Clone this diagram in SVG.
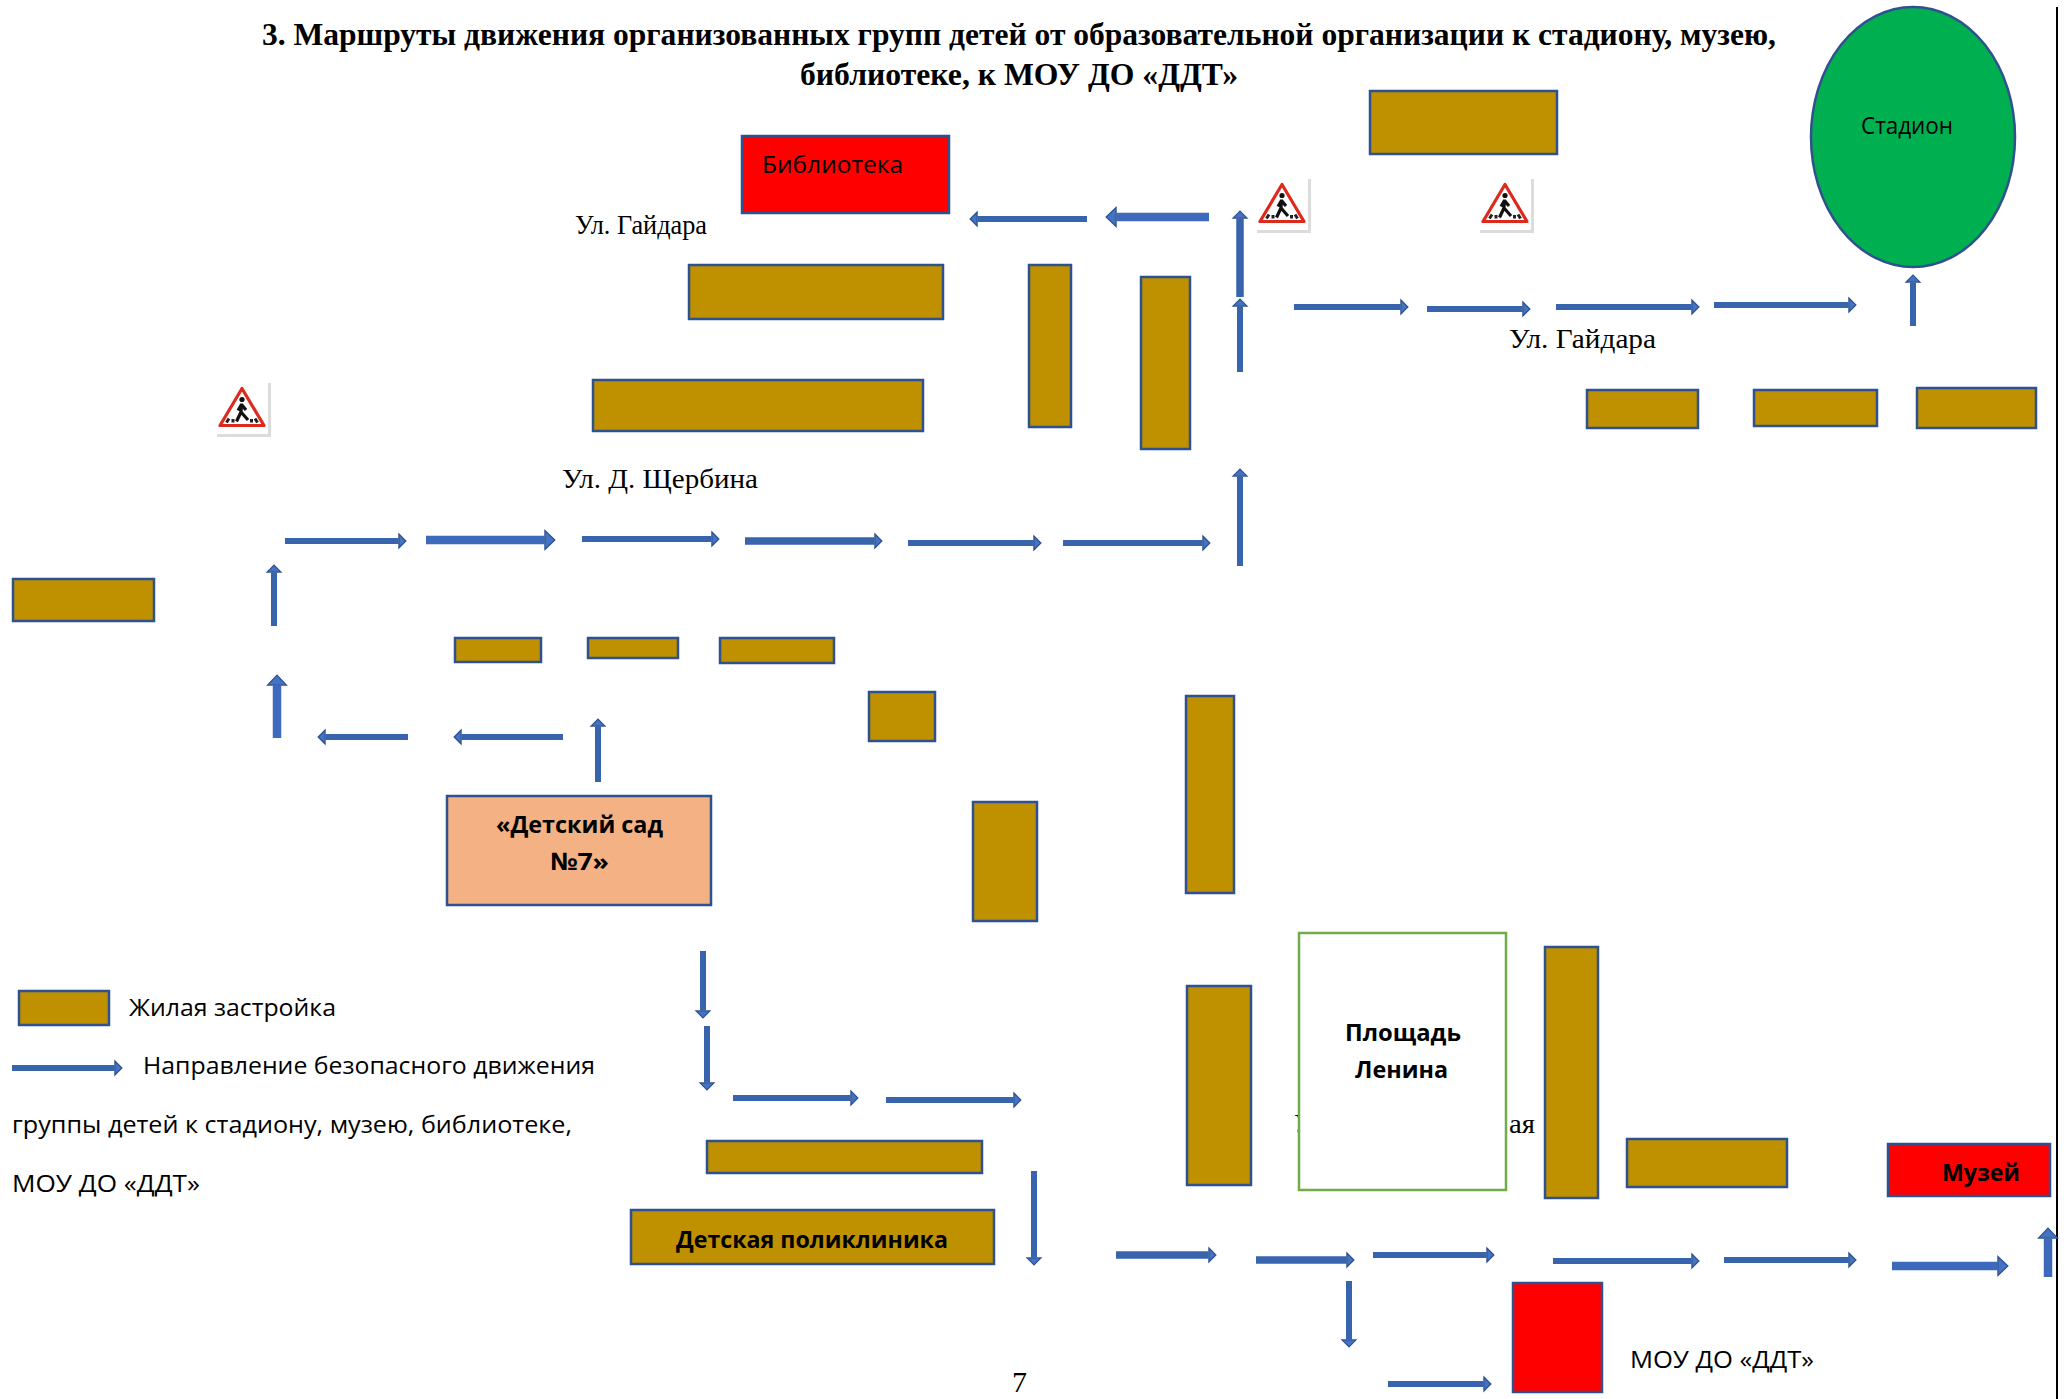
<svg xmlns="http://www.w3.org/2000/svg" width="2069" height="1399" viewBox="0 0 2069 1399">
<style>
.b{fill:#bf9000;stroke:#2f528f;stroke-width:2.5}
.r{fill:#ff0000;stroke:#2f528f;stroke-width:2.5}
.a{stroke:#3864ae;stroke-width:6;fill:none;marker-end:url(#h)}
.a7{stroke:#3864ae;stroke-width:7.5;fill:none;marker-end:url(#h)}
.m{stroke:#3d6abb;stroke-width:8.5;fill:none;marker-end:url(#hm)}
.t{fill:#4472c4;stroke:#2f528f;stroke-width:1.2}
.c{font-family:"Open Sans","Noto Sans",sans-serif;font-size:24px;fill:#000}
.cb{font-family:"Open Sans","Noto Sans",sans-serif;font-size:24px;font-weight:700;fill:#000}
.s{font-family:"Liberation Serif","DejaVu Serif",serif;font-size:28px;fill:#000}
.h{font-family:"Liberation Serif","DejaVu Serif",serif;font-size:31px;font-weight:700;fill:#000}
.n{font-family:"Liberation Serif","DejaVu Serif",serif;font-size:30px;fill:#000}
</style>
<defs>
<marker id="h" markerUnits="userSpaceOnUse" markerWidth="10" markerHeight="18" viewBox="0 0 10 18" refX="0.6" refY="9" orient="auto"><path class="t" d="M1 2L8 9L1 16z"/></marker>
<marker id="hm" markerUnits="userSpaceOnUse" markerWidth="13" markerHeight="24" viewBox="0 0 13 24" refX="0.6" refY="12" orient="auto"><path class="t" d="M1 2.500L11 12L1 21.500z"/></marker>
<g id="sign">
<rect x="2" y="2" width="54" height="54" fill="#dcdcdc"/>
<rect x="0" y="0" width="53" height="53" fill="#ffffff"/>
<path d="M27 7.500L5 44.500H49z" fill="#fff" stroke="#dd2a1c" stroke-width="3.200" stroke-linejoin="round"/>
<circle cx="27" cy="18.500" r="2.600" fill="#111"/>
<path d="M26.500 22.500L26 31L21.500 40.500M26 31L33 39M26.500 23.500L31 29M26.500 23.500L23 29.500" fill="none" stroke="#111" stroke-width="3.200"/>
<path d="M11.500 41.500L14 37.500M18 41.500V38M36.500 41.500V38M42.500 41.500L40 37.500" fill="none" stroke="#222" stroke-width="3"/>
</g>
</defs>
<rect width="2069" height="1399" fill="#ffffff"/>

<g id="page-edge"><rect x="2056" y="7" width="2" height="1392" fill="#000"/></g>

<g id="title">
<text class="h" x="262" y="45" textLength="1514" lengthAdjust="spacingAndGlyphs">3. Маршруты движения организованных групп детей от образовательной организации к стадиону, музею,</text>
<text class="h" x="800" y="85" textLength="438" lengthAdjust="spacingAndGlyphs">библиотеке, к МОУ ДО «ДДТ»</text>
</g>

<g id="stadium">
<ellipse cx="1913" cy="137" rx="102" ry="130" fill="#00b050" stroke="#2f528f" stroke-width="2.500"/>
<text class="c" x="1861" y="134" textLength="92" lengthAdjust="spacingAndGlyphs">Стадион</text>
</g>

<g id="library">
<rect class="r" x="742" y="136" width="207" height="77"/>
<text class="c" x="762" y="173" textLength="141" lengthAdjust="spacingAndGlyphs">Библиотека</text>
</g>

<g id="kindergarten">
<rect x="447" y="796" width="264" height="109" fill="#f4b183" stroke="#2f528f" stroke-width="2.500"/>
<text class="cb" x="496" y="833" textLength="167" lengthAdjust="spacingAndGlyphs">«Детский сад</text>
<text class="cb" x="550" y="870" textLength="59" lengthAdjust="spacingAndGlyphs">№7»</text>
</g>

<g id="polyclinic">
<rect class="b" x="631" y="1210" width="363" height="54"/>
<text class="cb" x="676" y="1248" textLength="272" lengthAdjust="spacingAndGlyphs">Детская поликлиника</text>
</g>

<g id="street-hidden">
<text class="s" x="1294" y="1133">У</text>
<text class="s" x="1509" y="1133" textLength="26" lengthAdjust="spacingAndGlyphs">ая</text>
</g>

<g id="square">
<rect x="1299" y="933" width="207" height="257" fill="#ffffff" stroke="#70ad47" stroke-width="2.500"/>
<text class="cb" x="1345" y="1041" textLength="116" lengthAdjust="spacingAndGlyphs">Площадь</text>
<text class="cb" x="1355" y="1078" textLength="93" lengthAdjust="spacingAndGlyphs">Ленина</text>
</g>

<g id="museum">
<rect class="r" x="1888" y="1144" width="162" height="52"/>
<text class="cb" x="1942" y="1181" textLength="78" lengthAdjust="spacingAndGlyphs">Музей</text>
</g>

<g id="ddt">
<rect class="r" x="1513" y="1283" width="89" height="109"/>
<text class="c" x="1630" y="1368" textLength="184" lengthAdjust="spacingAndGlyphs">МОУ ДО «ДДТ»</text>
</g>

<g id="housing">
<rect class="b" x="1370" y="91" width="187" height="63"/>
<rect class="b" x="689" y="265" width="254" height="54"/>
<rect class="b" x="593" y="380" width="330" height="51"/>
<rect class="b" x="1029" y="265" width="42" height="162"/>
<rect class="b" x="1141" y="277" width="49" height="172"/>
<rect class="b" x="1587" y="390" width="111" height="38"/>
<rect class="b" x="1754" y="390" width="123" height="36"/>
<rect class="b" x="1917" y="388" width="119" height="40"/>
<rect class="b" x="13" y="579" width="141" height="42"/>
<rect class="b" x="455" y="638" width="86" height="24"/>
<rect class="b" x="588" y="638" width="90" height="20"/>
<rect class="b" x="720" y="638" width="114" height="25"/>
<rect class="b" x="869" y="692" width="66" height="49"/>
<rect class="b" x="973" y="802" width="64" height="119"/>
<rect class="b" x="1186" y="696" width="48" height="197"/>
<rect class="b" x="1187" y="986" width="64" height="199"/>
<rect class="b" x="1545" y="947" width="53" height="251"/>
<rect class="b" x="1627" y="1139" width="160" height="48"/>
<rect class="b" x="707" y="1141" width="275" height="32"/>
</g>

<g id="signs">
<use href="#sign" transform="translate(1255 177)"/>
<use href="#sign" transform="translate(1478 177)"/>
<use href="#sign" transform="translate(215 381)"/>
</g>

<g id="street-labels">
<text class="s" x="575" y="234" textLength="132" lengthAdjust="spacingAndGlyphs">Ул. Гайдара</text>
<text class="s" x="1509" y="348" textLength="147" lengthAdjust="spacingAndGlyphs">Ул. Гайдара</text>
<text class="s" x="562" y="488" textLength="196" lengthAdjust="spacingAndGlyphs">Ул. Д. Щербина</text>
</g>

<g id="connectors">
<line class="a" x1="274" y1="626" x2="274" y2="572.500"/>
<line class="m" x1="277" y1="738" x2="277" y2="685.500"/>
<line class="a" x1="408" y1="737" x2="325.500" y2="737"/>
<line class="a" x1="563" y1="737" x2="461.500" y2="737"/>
<line class="a" x1="598" y1="782" x2="598" y2="726.500"/>
<line class="a" x1="285" y1="541" x2="398.500" y2="541"/>
<line class="m" x1="426" y1="540" x2="544.500" y2="540"/>
<line class="a" x1="582" y1="539" x2="711.500" y2="539"/>
<line class="a7" x1="745" y1="541" x2="874.500" y2="541"/>
<line class="a" x1="908" y1="543" x2="1033.500" y2="543"/>
<line class="a" x1="1063" y1="543" x2="1202.500" y2="543"/>
<line class="a" x1="1240" y1="566" x2="1240" y2="476.500"/>
<line class="a" x1="1240" y1="372" x2="1240" y2="306.500"/>
<line class="a7" x1="1240" y1="297" x2="1240" y2="218.500"/>
<line class="m" x1="1209" y1="217" x2="1116.500" y2="217"/>
<line class="a" x1="1087" y1="219" x2="977.500" y2="219"/>
<line class="a" x1="1294" y1="307" x2="1400.500" y2="307"/>
<line class="a" x1="1427" y1="309" x2="1522.500" y2="309"/>
<line class="a" x1="1556" y1="307" x2="1691.500" y2="307"/>
<line class="a" x1="1714" y1="305" x2="1848.500" y2="305"/>
<line class="a" x1="1913" y1="326" x2="1913" y2="282.500"/>
<line class="a" x1="703" y1="951" x2="703" y2="1010.500"/>
<line class="a" x1="707" y1="1026" x2="707" y2="1082.500"/>
<line class="a" x1="733" y1="1098" x2="850.500" y2="1098"/>
<line class="a" x1="886" y1="1100" x2="1013.500" y2="1100"/>
<line class="a" x1="1034" y1="1171" x2="1034" y2="1257.500"/>
<line class="a7" x1="1116" y1="1255" x2="1208.500" y2="1255"/>
<line class="a7" x1="1256" y1="1260" x2="1346.500" y2="1260"/>
<line class="a" x1="1373" y1="1255" x2="1486.500" y2="1255"/>
<line class="a" x1="1553" y1="1261" x2="1691.500" y2="1261"/>
<line class="a" x1="1724" y1="1260" x2="1848.500" y2="1260"/>
<line class="m" x1="1892" y1="1266" x2="1997.500" y2="1266"/>
<line class="m" x1="2048" y1="1277" x2="2048" y2="1238.500"/>
<line class="a" x1="1349" y1="1281" x2="1349" y2="1339.500"/>
<line class="a" x1="1388" y1="1384" x2="1483.500" y2="1384"/>
</g>

<g id="legend">
<rect class="b" x="19" y="991" width="90" height="34"/>
<text class="c" x="129" y="1016" textLength="207" lengthAdjust="spacingAndGlyphs">Жилая застройка</text>
<line class="a" x1="12" y1="1068" x2="114.500" y2="1068"/>
<text class="c" x="143" y="1074" textLength="452" lengthAdjust="spacingAndGlyphs">Направление безопасного движения</text>
<text class="c" x="12" y="1133" textLength="560" lengthAdjust="spacingAndGlyphs">группы детей к стадиону, музею, библиотеке,</text>
<text class="c" x="12" y="1192" textLength="188" lengthAdjust="spacingAndGlyphs">МОУ ДО «ДДТ»</text>
</g>

<g id="page-number"><text class="n" x="1012" y="1392">7</text></g>
</svg>
